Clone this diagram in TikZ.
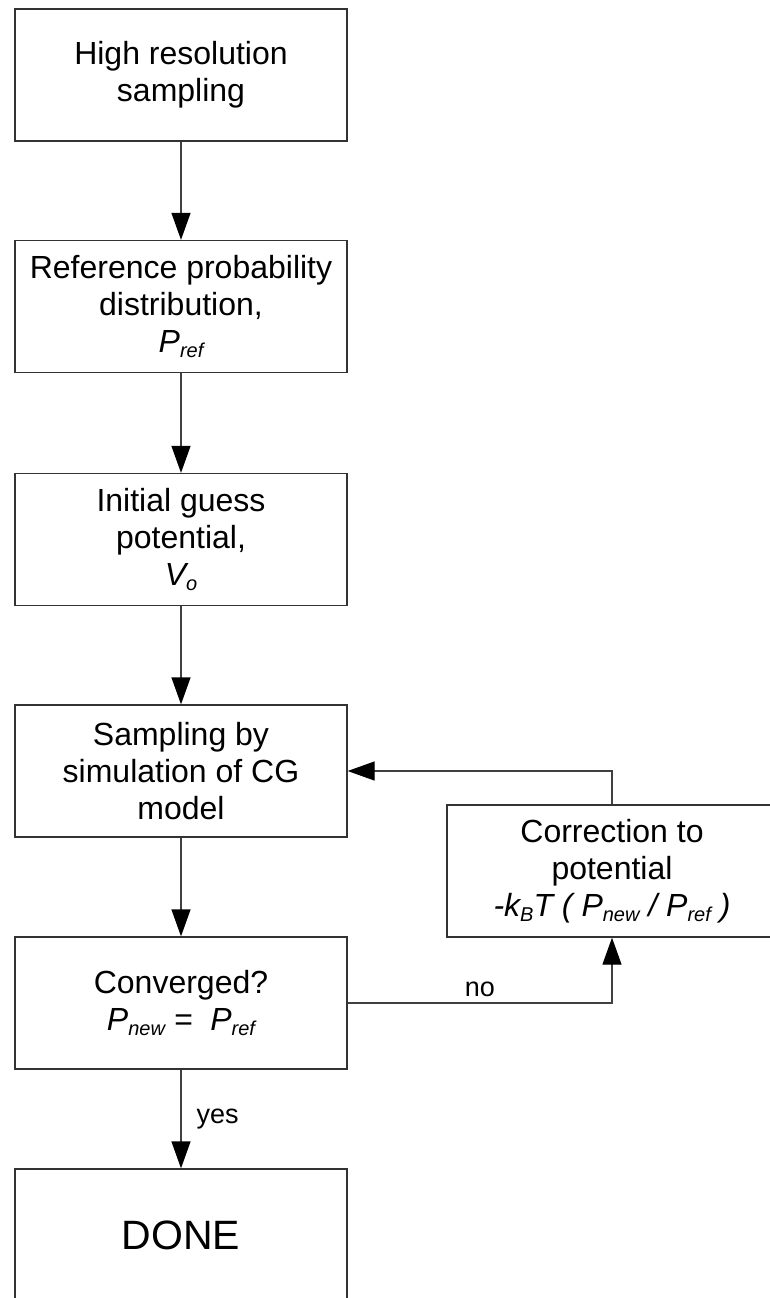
\documentclass[tikz,border=0pt]{standalone}
\usepackage{fontspec}
\setmainfont{Liberation Sans}
\usepackage{tikz}
\usetikzlibrary{arrows.meta}
\newcommand{\lowsub}[2]{#1\raisebox{-0.3ex}{\fontsize{20}{20}\selectfont #2}}
\tikzset{ step_box/.style = {rectangle, draw=black!80, line width=1.3pt, align=center, minimum width=332pt, minimum height=132pt, inner sep=0pt, font=\fontsize{32}{37}\selectfont} }
\tikzset{ flow/.style = {draw=black!75, line width=1.3pt, -{Triangle[width=19pt,length=27pt,color=black]}} }
\tikzset{ flow_label/.style = {font=\fontsize{27}{30}\selectfont} }

\begin{document}
\begin{tikzpicture}[x=1pt,y=-1pt]
\clip (0,0) rectangle (770,1298);
\node[step_box] (sample) at (181,75) {High resolution\\sampling};
\node[step_box] (pref) at (181,306.5) {Reference probability\\distribution,\\\textit{\lowsub{P}{ref}}};
\node[step_box] (guess) at (181,539.5) {Initial guess\\potential,\\\textit{\lowsub{V}{o}}};
\node[step_box] (cg) at (181,771) {Sampling by\\simulation of CG\\model};
\node[step_box] (conv) at (181,1003) {Converged?\\\textit{\lowsub{P}{new} = \ \lowsub{P}{ref}}};
\node[step_box, font=\fontsize{41}{45}\selectfont] (done) at (181,1235) {DONE};
\node[step_box, minimum width=330pt] (corr) at (612,871) {Correction to\\potential\\\textit{-\lowsub{k}{B}T ( \lowsub{P}{new} / \lowsub{P}{ref} )}};
\draw[flow] (sample) -- (pref);
\draw[flow] (pref) -- (guess);
\draw[flow] (guess) -- (cg);
\draw[flow] (cg) -- (conv);
\draw[flow] (conv) -- node[flow_label, right, inner sep=15pt] {yes} (done);
\draw[flow] (conv.east) -| node[flow_label, above, pos=0.25, inner sep=6pt] {no} (corr.south);
\draw[flow] (corr.north) |- (cg.east);
\end{tikzpicture}
\end{document}
